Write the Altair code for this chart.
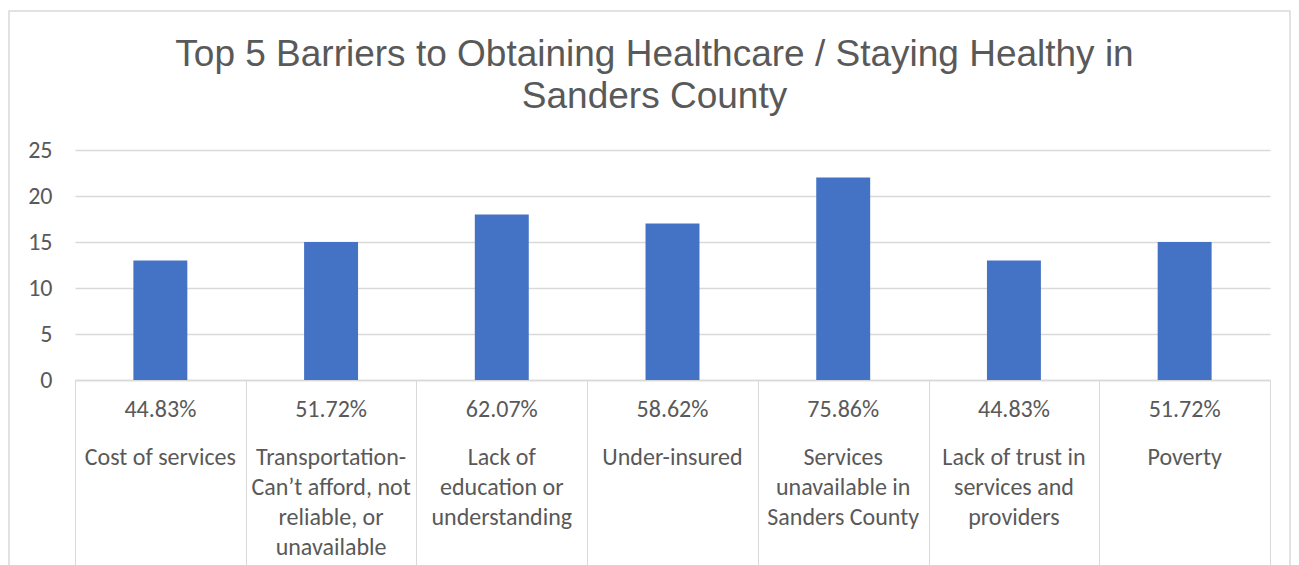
import altair as alt
import pandas as pd

categories = [
    "Cost of services",
    "Transportation- Can’t afford, not reliable, or unavailable",
    "Lack of education or understanding",
    "Under-insured",
    "Services unavailable in Sanders County",
    "Lack of trust in services and providers",
    "Poverty",
]
label_lines = [
    "Cost of services",
    "Transportation-\nCan’t afford, not\nreliable, or\nunavailable",
    "Lack of\neducation or\nunderstanding",
    "Under-insured",
    "Services\nunavailable in\nSanders County",
    "Lack of trust in\nservices and\nproviders",
    "Poverty",
]
counts = [13, 15, 18, 17, 22, 13, 15]
percents = ["44.83%", "51.72%", "62.07%", "58.62%", "75.86%", "44.83%", "51.72%"]
title_text = "Top 5 Barriers to Obtaining Healthcare / Staying Healthy in\nSanders County"
y_ticks = [0, 5, 10, 15, 20, 25]

df = pd.DataFrame({"category": categories, "label": label_lines,
                   "count": counts, "pct": percents})

W, H = 1195, 230
GREY = "#595959"
LINE = "#d9d9d9"
FONT = "Carlito, Lato, Liberation Sans, sans-serif"
FS = 24

xscale = alt.Scale(domain=categories, paddingInner=0, paddingOuter=0)

base = alt.Chart(df)

frame = alt.Chart(pd.DataFrame({"a": [0]})).mark_rect(
    fill=None, stroke=LINE, strokeWidth=1.5
).encode(x=alt.value(-66), x2=alt.value(1215), y=alt.value(-139), y2=alt.value(600))

title = alt.Chart(pd.DataFrame({"t": [title_text]})).mark_text(
    font="Liberation Sans", fontSize=37, color=GREY, baseline="middle",
    align="center", lineBreak="\n", lineHeight=42
).encode(x=alt.value(W / 2 - 18), y=alt.value(-95), text="t:N")

bars = base.mark_bar(color="#4472C4", width=alt.RelativeBandSize(0.316)).encode(
    x=alt.X("category:N", scale=xscale, sort=categories,
            axis=alt.Axis(title=None, labels=False, tickBand="extent", tickSize=190,
                          tickColor=LINE, tickWidth=1, domainColor=LINE, domainWidth=1.5,
                          grid=False)),
    y=alt.Y("count:Q", scale=alt.Scale(domain=[0, 25], nice=False),
            axis=alt.Axis(title=None, values=y_ticks, domain=False, ticks=False,
                          labelFont=FONT, labelFontSize=FS, labelColor=GREY,
                          labelPadding=23, gridColor=LINE, gridWidth=1.5)),
)

pct_text = base.mark_text(font=FONT, fontSize=FS, color=GREY, baseline="middle").encode(
    x=alt.X("category:N", scale=xscale, sort=categories),
    y=alt.value(H + 30),
    text="pct:N",
)

cat_text = base.mark_text(font=FONT, fontSize=FS, color=GREY, baseline="middle",
                          lineBreak="\n", lineHeight=30).encode(
    x=alt.X("category:N", scale=xscale, sort=categories),
    y=alt.value(H + 78),
    text="label:N",
)

chart = alt.layer(frame, title, bars, pct_text, cat_text).properties(
    width=W, height=H,
    autosize=alt.AutoSizeParams(type="none"),
    padding={"left": 67, "top": 142, "right": 21, "bottom": 185},
).configure_view(stroke=None)

chart.save("out.html", embed_options={"renderer": "svg", "actions": False})
